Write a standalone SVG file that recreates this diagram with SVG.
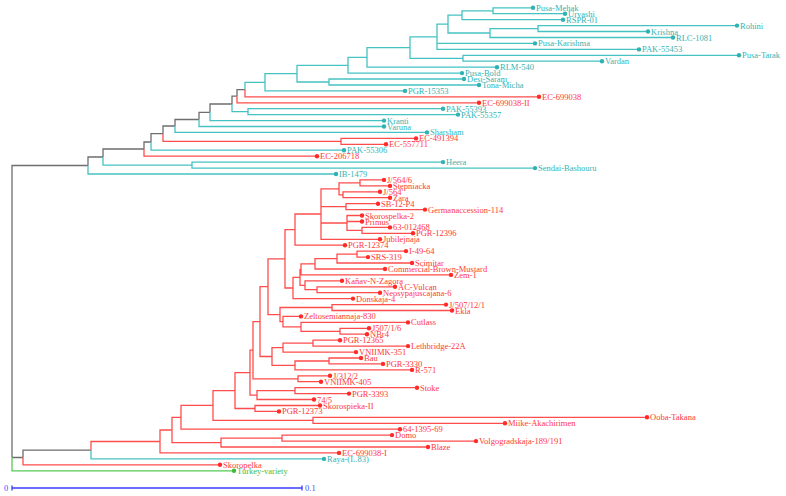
<svg xmlns="http://www.w3.org/2000/svg" width="786" height="496" viewBox="0 0 786 496">
<style>
path{fill:none;stroke-width:1.3}
.c{stroke:#45c2c2}.r{stroke:#ff4d4d}.k{stroke:#6e6e6e}.g{stroke:#55cc55}.b{stroke:#3b3bff}
text{font-family:"Liberation Serif","Times New Roman",serif;font-size:8.5px}
.tc text{fill:#33b4b4}.tc circle{fill:#2fb2b2}
.tr text{fill:#ff3838}.tr circle{fill:#ff2a2a}
.tg text{fill:#44bb44}.tg circle{fill:#3cbb3c}
</style>
<g id="connectors">
<path class="k" d="M12,457.5V165.5H88M12,457.5H23M88,165.5V157H103M103,157V149H144M144,149V142H151M151,142V133.7H163M163,133.7V126H175M175,126V119.5H199M199,119.5V112.3H210M210,112.3V104H232M232,104V96.2H237M237,96.2V89.6H245M23,457.5V450.2H91"/>
<path class="g" d="M12,457.5V470.8H234"/>
<path class="c" d="M88,165.5V174H336M103,157V165.1H192M192,165.1V162.1H443M192,165.1V168.1H535M151,142V150.2H344M175,126V132.4H427M199,119.5V126.5H384M210,112.3V120.6H384M232,104V111.7H248M248,111.7V108.7H443M248,111.7V114.6H458M245,89.6V82.3H265M265,82.3V73.7H297M265,82.3V90.9H405M297,73.7V65.3H348M297,73.7V82H329M329,82V79H464M329,82V85H479M348,65.3V57.4H367M348,65.3V73.1H462M367,57.4V47.6H410M367,57.4V67.2H497M410,47.6V36.9H437M410,47.6V58.3H463M463,58.3V55.3H739M463,58.3V61.2H602M437,36.9V24.1H448M437,36.9V43.4H535M437,36.9V49.4H639M448,24.1V15.2H462M448,24.1V33H490M462,15.2V10.8H493M462,15.2V19.7H563M493,10.8V7.8H533M493,10.8V13.7H565M490,33V28.6H538M490,33V37.5H673M538,28.6V25.6H737M538,28.6V31.5H648M91,450.2V458.9H324"/>
<path class="r" d="M144,149V156.2H317M163,133.7V141.4H341M341,141.4V138.4H416M341,141.4V144.3H386M237,96.2V102.8H479M245,89.6V96.8H539"/>
<path class="r" d="M360,182.9V179.9H384M360,182.9V185.9H390M343,194.8V191.8H380M343,194.8V197.7H390M339,188.8V182.9H360M339,188.8V194.8H343M346,206.7V203.7H378M346,206.7V209.6H425M362,230.4V227.4H390M362,230.4V233.3H413M347,223V215.5H362M347,223V221.5H362M347,223V230.4H362M321,214V188.8H339M321,214V206.7H346M321,214V223H347M321,214V239.3H380M295,229.6V214H321M295,229.6V245.2H345"/>
<path class="r" d="M357,254.1V251.1H406M357,254.1V257.1H368M337,258.6V254.1H357M337,258.6V263H412M315,263.8V258.6H337M315,263.8V269H385M301,269.3V263.8H315M301,269.3V274.9H451M317,289.7V286.8H395M317,289.7V292.7H380M305,285.3V280.8H342M305,285.3V289.7H317M300,277.3V269.3H301M300,277.3V285.3H305M293,288V277.3H300M293,288V298.6H353M285,258.8V229.6H295M285,258.8V288H293"/>
<path class="r" d="M332,307.5V304.6H446M332,307.5V310.5H452M340,331.3V328.3H369M340,331.3V334.2H367M301,326.8V322.4H408M301,326.8V331.3H340M283,321.6V316.4H301M283,321.6V326.8H301M280,314.6V307.5H332M280,314.6V321.6H283M268,286.7V258.8H285M268,286.7V314.6H280"/>
<path class="r" d="M313,343.1V340.2H340M313,343.1V346.1H408M283,347.6V343.1H313M283,347.6V352.1H356M329,361V358H361M329,361V363.9H383M295,365.4V361H329M295,365.4V369.9H412M272,356.5V347.6H283M272,356.5V365.4H295M260,321.6V286.7H268M260,321.6V356.5H272M298,378.8V375.8H330M298,378.8V381.7H321M253,350.2V321.6H260M253,350.2V378.8H298"/>
<path class="r" d="M295,390.7V387.7H417M295,390.7V393.6H349M257,395.1V390.7H295M257,395.1V399.5H314M250,372.6V350.2H253M250,372.6V395.1H257M255,408.5V405.5H320M255,408.5V411.4H279M235,390.6V372.6H250M235,390.6V408.5H255M313,420.3V417.3H647M313,420.3V423.3H505M213,405.4V390.6H235M213,405.4V420.3H313M181,417.3V405.4H213M181,417.3V429.2H400M282,438.1V435.1H392M282,438.1V441.1H476M221,442.6V438.1H282M221,442.6V447H428M172,430V417.3H181M172,430V442.6H221M160,441.5V430H172M160,441.5V452.9H339M91,450.2V441.5H160M23,457.5V464.8H220"/>
</g>
<g id="leaves-cyan" class="tc">
<g id="n1"><circle cx="533" cy="7.8" r="2.2"/><text x="536" y="10.8">Pusa-Mehak</text></g>
<g id="n2"><circle cx="565" cy="13.7" r="2.2"/><text x="568" y="16.7">Urvashi</text></g>
<g id="n3"><circle cx="563" cy="19.7" r="2.2"/><text x="566" y="22.7">RSPR-01</text></g>
<g id="n4"><circle cx="737" cy="25.6" r="2.2"/><text x="740" y="28.6">Rohini</text></g>
<g id="n5"><circle cx="648" cy="31.5" r="2.2"/><text x="651" y="34.5">Krishna</text></g>
<g id="n6"><circle cx="673" cy="37.5" r="2.2"/><text x="676" y="40.5">RLC-1081</text></g>
<g id="n7"><circle cx="535" cy="43.4" r="2.2"/><text x="538" y="46.4">Pusa-Karishma</text></g>
<g id="n8"><circle cx="639" cy="49.4" r="2.2"/><text x="642" y="52.4">PAK-55453</text></g>
<g id="n9"><circle cx="739" cy="55.3" r="2.2"/><text x="742" y="58.3">Pusa-Tarak</text></g>
<g id="n10"><circle cx="602" cy="61.2" r="2.2"/><text x="605" y="64.2">Vardan</text></g>
<g id="n11"><circle cx="497" cy="67.2" r="2.2"/><text x="500" y="70.2">RLM-540</text></g>
<g id="n12"><circle cx="462" cy="73.1" r="2.2"/><text x="465" y="76.1">Pusa-Bold</text></g>
<g id="n13"><circle cx="464" cy="79" r="2.2"/><text x="467" y="82">Desi-Saram</text></g>
<g id="n14"><circle cx="479" cy="85" r="2.2"/><text x="482" y="88">Tona-Micha</text></g>
<g id="n15"><circle cx="405" cy="90.9" r="2.2"/><text x="408" y="93.9">PGR-15353</text></g>
<g id="n18"><circle cx="443" cy="108.7" r="2.2"/><text x="446" y="111.7">PAK-55393</text></g>
<g id="n19"><circle cx="458" cy="114.6" r="2.2"/><text x="461" y="117.6">PAK-55357</text></g>
<g id="n20"><circle cx="384" cy="120.6" r="2.2"/><text x="387" y="123.6">Kranti</text></g>
<g id="n21"><circle cx="384" cy="126.5" r="2.2"/><text x="387" y="129.5">Varuna</text></g>
<g id="n22"><circle cx="427" cy="132.4" r="2.2"/><text x="430" y="135.4">Sharsham</text></g>
<g id="n25"><circle cx="344" cy="150.2" r="2.2"/><text x="347" y="153.2">PAK-55306</text></g>
<g id="n27"><circle cx="443" cy="162.1" r="2.2"/><text x="446" y="165.1">Heera</text></g>
<g id="n28"><circle cx="535" cy="168.1" r="2.2"/><text x="538" y="171.1">Sendai-Bashouru</text></g>
<g id="n29"><circle cx="336" cy="174" r="2.2"/><text x="339" y="177">IB-1479</text></g>
<g id="n77"><circle cx="324" cy="458.9" r="2.2"/><text x="327" y="461.9">Raya-(L.83)</text></g>
</g>
<g id="leaves-red" class="tr">
<g id="n16"><circle cx="539" cy="96.8" r="2.2"/><text x="542" y="99.8">EC-699038</text></g>
<g id="n17"><circle cx="479" cy="102.8" r="2.2"/><text x="482" y="105.8">EC-699038-II</text></g>
<g id="n23"><circle cx="416" cy="138.4" r="2.2"/><text x="419" y="141.4">EC-491394</text></g>
<g id="n24"><circle cx="386" cy="144.3" r="2.2"/><text x="389" y="147.3">EC-557711</text></g>
<g id="n26"><circle cx="317" cy="156.2" r="2.2"/><text x="320" y="159.2">EC-206718</text></g>
<g id="n30"><circle cx="384" cy="179.9" r="2.2"/><text x="387" y="182.9">J/564/6</text></g>
<g id="n31"><circle cx="390" cy="185.9" r="2.2"/><text x="393" y="188.9">Stepniacka</text></g>
<g id="n32"><circle cx="380" cy="191.8" r="2.2"/><text x="383" y="194.8">J/564'</text></g>
<g id="n33"><circle cx="390" cy="197.7" r="2.2"/><text x="393" y="200.7">Zara</text></g>
<g id="n34"><circle cx="378" cy="203.7" r="2.2"/><text x="381" y="206.7">SB-12-P4</text></g>
<g id="n35"><circle cx="425" cy="209.6" r="2.2"/><text x="428" y="212.6">Germanaccession-114</text></g>
<g id="n36"><circle cx="362" cy="215.5" r="2.2"/><text x="365" y="218.5">Skorospelka-2</text></g>
<g id="n37"><circle cx="362" cy="221.5" r="2.2"/><text x="365" y="224.5">Primus</text></g>
<g id="n38"><circle cx="390" cy="227.4" r="2.2"/><text x="393" y="230.4">63-012468</text></g>
<g id="n39"><circle cx="413" cy="233.3" r="2.2"/><text x="416" y="236.3">PGR-12396</text></g>
<g id="n40"><circle cx="380" cy="239.3" r="2.2"/><text x="383" y="242.3">Jubilejnaja</text></g>
<g id="n41"><circle cx="345" cy="245.2" r="2.2"/><text x="348" y="248.2">PGR-12374</text></g>
<g id="n42"><circle cx="406" cy="251.1" r="2.2"/><text x="409" y="254.1">I-49-64</text></g>
<g id="n43"><circle cx="368" cy="257.1" r="2.2"/><text x="371" y="260.1">SRS-319</text></g>
<g id="n44"><circle cx="412" cy="263" r="2.2"/><text x="415" y="266">Scimitar</text></g>
<g id="n45"><circle cx="385" cy="269" r="2.2"/><text x="388" y="272">Commercial-Brown-Mustard</text></g>
<g id="n46"><circle cx="451" cy="274.9" r="2.2"/><text x="454" y="277.9">Zem-1</text></g>
<g id="n47"><circle cx="342" cy="280.8" r="2.2"/><text x="345" y="283.8">Kaňav-N-Zagora</text></g>
<g id="n48"><circle cx="395" cy="286.8" r="2.2"/><text x="398" y="289.8">AC-Vulcan</text></g>
<g id="n49"><circle cx="380" cy="292.7" r="2.2"/><text x="383" y="295.7">Neosypajuscajana-6</text></g>
<g id="n50"><circle cx="353" cy="298.6" r="2.2"/><text x="356" y="301.6">Donskaja-4</text></g>
<g id="n51"><circle cx="446" cy="304.6" r="2.2"/><text x="449" y="307.6">J/507/12/1</text></g>
<g id="n52"><circle cx="452" cy="310.5" r="2.2"/><text x="455" y="313.5">Ekla</text></g>
<g id="n53"><circle cx="301" cy="316.4" r="2.2"/><text x="304" y="319.4">Zeltosemiannaja-830</text></g>
<g id="n54"><circle cx="408" cy="322.4" r="2.2"/><text x="411" y="325.4">Cutlass</text></g>
<g id="n55"><circle cx="369" cy="328.3" r="2.2"/><text x="372" y="331.3">J507/1/6</text></g>
<g id="n56"><circle cx="367" cy="334.2" r="2.2"/><text x="370" y="337.2">NBr4</text></g>
<g id="n57"><circle cx="340" cy="340.2" r="2.2"/><text x="343" y="343.2">PGR-12365</text></g>
<g id="n58"><circle cx="408" cy="346.1" r="2.2"/><text x="411" y="349.1">Lethbridge-22A</text></g>
<g id="n59"><circle cx="356" cy="352.1" r="2.2"/><text x="359" y="355.1">VNIIMK-351</text></g>
<g id="n60"><circle cx="361" cy="358" r="2.2"/><text x="364" y="361">Bau</text></g>
<g id="n61"><circle cx="383" cy="363.9" r="2.2"/><text x="386" y="366.9">PGR-3330</text></g>
<g id="n62"><circle cx="412" cy="369.9" r="2.2"/><text x="415" y="372.9">R-571</text></g>
<g id="n63"><circle cx="330" cy="375.8" r="2.2"/><text x="333" y="378.8">J/312/2</text></g>
<g id="n64"><circle cx="321" cy="381.7" r="2.2"/><text x="324" y="384.7">VNIIMK-405</text></g>
<g id="n65"><circle cx="417" cy="387.7" r="2.2"/><text x="420" y="390.7">Stoke</text></g>
<g id="n66"><circle cx="349" cy="393.6" r="2.2"/><text x="352" y="396.6">PGR-3393</text></g>
<g id="n67"><circle cx="314" cy="399.5" r="2.2"/><text x="317" y="402.5">74/5</text></g>
<g id="n68"><circle cx="320" cy="405.5" r="2.2"/><text x="323" y="408.5">Skorospieka-II</text></g>
<g id="n69"><circle cx="279" cy="411.4" r="2.2"/><text x="282" y="414.4">PGR-12373</text></g>
<g id="n70"><circle cx="647" cy="417.3" r="2.2"/><text x="650" y="420.3">Ooba-Takana</text></g>
<g id="n71"><circle cx="505" cy="423.3" r="2.2"/><text x="508" y="426.3">Miike-Akachirimen</text></g>
<g id="n72"><circle cx="400" cy="429.2" r="2.2"/><text x="403" y="432.2">64-1395-69</text></g>
<g id="n73"><circle cx="392" cy="435.1" r="2.2"/><text x="395" y="438.1">Domo</text></g>
<g id="n74"><circle cx="476" cy="441.1" r="2.2"/><text x="479" y="444.1">Volgogradskaja-189/191</text></g>
<g id="n75"><circle cx="428" cy="447" r="2.2"/><text x="431" y="450">Blaze</text></g>
<g id="n76"><circle cx="339" cy="452.9" r="2.2"/><text x="342" y="455.9">EC-699038-I</text></g>
<g id="n78"><circle cx="220" cy="464.8" r="2.2"/><text x="223" y="467.8">Skoropelka</text></g>
</g>
<g id="leaves-green" class="tg">
<g id="n79"><circle cx="234" cy="470.8" r="2.2"/><text x="237" y="473.8">Turkey-variety</text></g>
</g>
<g id="scale">
<path class="b" d="M12,488H302M12,485.5V490.5M302,485.5V490.5"/>
<text x="4" y="491" fill="#4a4aff">0</text>
<text x="305" y="491" fill="#4a4aff">0.1</text>
</g>
</svg>
